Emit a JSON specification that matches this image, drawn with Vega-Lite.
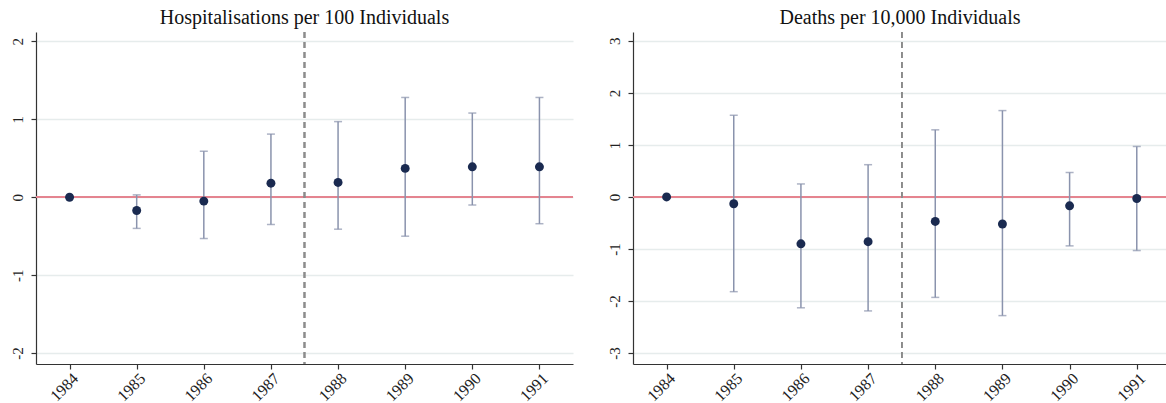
{
  "$schema": "https://vega.github.io/schema/vega-lite/v6.json",
  "padding": {"left": 10, "top": 8, "right": 0, "bottom": 0},
  "background": "white",
  "datasets": {
    "hosp": [
      {"year": 1984, "est": 0, "lo": null, "hi": null},
      {"year": 1985, "est": -0.17, "lo": -0.40, "hi": 0.03},
      {"year": 1986, "est": -0.05, "lo": -0.53, "hi": 0.59},
      {"year": 1987, "est": 0.18, "lo": -0.35, "hi": 0.81},
      {"year": 1988, "est": 0.19, "lo": -0.41, "hi": 0.97},
      {"year": 1989, "est": 0.37, "lo": -0.50, "hi": 1.28},
      {"year": 1990, "est": 0.39, "lo": -0.10, "hi": 1.08},
      {"year": 1991, "est": 0.39, "lo": -0.34, "hi": 1.28}
    ],
    "deaths": [
      {"year": 1984, "est": 0, "lo": null, "hi": null},
      {"year": 1985, "est": -0.13, "lo": -1.82, "hi": 1.57},
      {"year": 1986, "est": -0.90, "lo": -2.13, "hi": 0.25},
      {"year": 1987, "est": -0.86, "lo": -2.19, "hi": 0.62},
      {"year": 1988, "est": -0.47, "lo": -1.93, "hi": 1.29},
      {"year": 1989, "est": -0.52, "lo": -2.28, "hi": 1.66},
      {"year": 1990, "est": -0.17, "lo": -0.94, "hi": 0.47},
      {"year": 1991, "est": -0.03, "lo": -1.03, "hi": 0.97}
    ]
  },
  "hconcat": [
    {
      "width": 537,
      "height": 332,
      "title": {"text": "Hospitalisations per 100 Individuals"},
      "data": {"name": "hosp"},
      "encoding": {
        "x": {"field": "year", "type": "quantitative", "title": null,
              "scale": {"domain": [1983.5, 1991.5], "nice": false, "zero": false},
              "axis": {"values": [1984, 1985, 1986, 1987, 1988, 1989, 1990, 1991], "labelExpr": "datum.value + ''", "grid": false, "labelAngle": -45, "labelPadding": 1, "labelFontSize": 16}}
      },
      "layer": [
        {
          "mark": {"type": "rule", "color": "#e4848f", "strokeWidth": 1.5},
          "encoding": {"y": {"datum": 0, "type": "quantitative",
            "scale": {"domain": [-2.14, 2.12], "nice": false, "zero": false},
            "axis": {"values": [-2, -1, 0, 1, 2], "labelExpr": "datum.value + ''", "title": null, "labelAngle": -90, "labelPadding": 6}}, "x": null}
        },
        {
          "mark": {"type": "rule", "color": "#8c8c8c", "strokeWidth": 1.3, "strokeDash": [6, 4]},
          "encoding": {"x": {"datum": 1987.5, "type": "quantitative"}}
        },
        {
          "mark": {"type": "rule", "color": "#8a93ad", "strokeWidth": 1.5},
          "encoding": {"y": {"field": "lo", "type": "quantitative"}, "y2": {"field": "hi"}}
        },
        {
          "mark": {"type": "tick", "orient": "horizontal", "color": "#8a93ad", "size": 8, "thickness": 1.5},
          "encoding": {"y": {"field": "lo", "type": "quantitative"}}
        },
        {
          "mark": {"type": "tick", "orient": "horizontal", "color": "#8a93ad", "size": 8, "thickness": 1.5},
          "encoding": {"y": {"field": "hi", "type": "quantitative"}}
        },
        {
          "mark": {"type": "circle", "color": "#1a2a50", "size": 80, "opacity": 1},
          "encoding": {"y": {"field": "est", "type": "quantitative"}}
        }
      ]
    },
    {
      "width": 534,
      "height": 332,
      "title": {"text": "Deaths per 10,000 Individuals"},
      "data": {"name": "deaths"},
      "encoding": {
        "x": {"field": "year", "type": "quantitative", "title": null,
              "scale": {"domain": [1983.5, 1991.45], "nice": false, "zero": false},
              "axis": {"values": [1984, 1985, 1986, 1987, 1988, 1989, 1990, 1991], "labelExpr": "datum.value + ''", "grid": false, "labelAngle": -45, "labelPadding": 1, "labelFontSize": 16}}
      },
      "layer": [
        {
          "mark": {"type": "rule", "color": "#e4848f", "strokeWidth": 1.5},
          "encoding": {"y": {"datum": 0, "type": "quantitative",
            "scale": {"domain": [-3.21, 3.17], "nice": false, "zero": false},
            "axis": {"values": [-3, -2, -1, 0, 1, 2, 3], "labelExpr": "datum.value + ''", "title": null, "labelAngle": -90, "labelPadding": 6}}, "x": null}
        },
        {
          "mark": {"type": "rule", "color": "#8c8c8c", "strokeWidth": 1.3, "strokeDash": [6, 4]},
          "encoding": {"x": {"datum": 1987.5, "type": "quantitative"}}
        },
        {
          "mark": {"type": "rule", "color": "#8a93ad", "strokeWidth": 1.5},
          "encoding": {"y": {"field": "lo", "type": "quantitative"}, "y2": {"field": "hi"}}
        },
        {
          "mark": {"type": "tick", "orient": "horizontal", "color": "#8a93ad", "size": 8, "thickness": 1.5},
          "encoding": {"y": {"field": "lo", "type": "quantitative"}}
        },
        {
          "mark": {"type": "tick", "orient": "horizontal", "color": "#8a93ad", "size": 8, "thickness": 1.5},
          "encoding": {"y": {"field": "hi", "type": "quantitative"}}
        },
        {
          "mark": {"type": "circle", "color": "#1a2a50", "size": 80, "opacity": 1},
          "encoding": {"y": {"field": "est", "type": "quantitative"}}
        }
      ]
    }
  ],
  "spacing": 60,
  "bounds": "flush",
  "resolve": {"scale": {"y": "independent", "x": "independent"}},
  "config": {
    "view": {"stroke": null},
    "font": "Liberation Serif",
    "title": {"font": "Liberation Serif", "fontSize": 20, "fontWeight": "normal", "color": "#111111", "offset": 3},
    "axis": {
      "labelFont": "Liberation Serif", "labelFontSize": 15, "labelColor": "#222222",
      "domainColor": "#333333", "domainWidth": 1.2,
      "tickColor": "#333333", "tickSize": 5, "tickWidth": 1.2,
      "gridColor": "#e6ecec", "gridWidth": 1.5,
      "labelPadding": 4
    },
    "axisX": {"grid": false},
    "axisY": {"grid": true}
  }
}
